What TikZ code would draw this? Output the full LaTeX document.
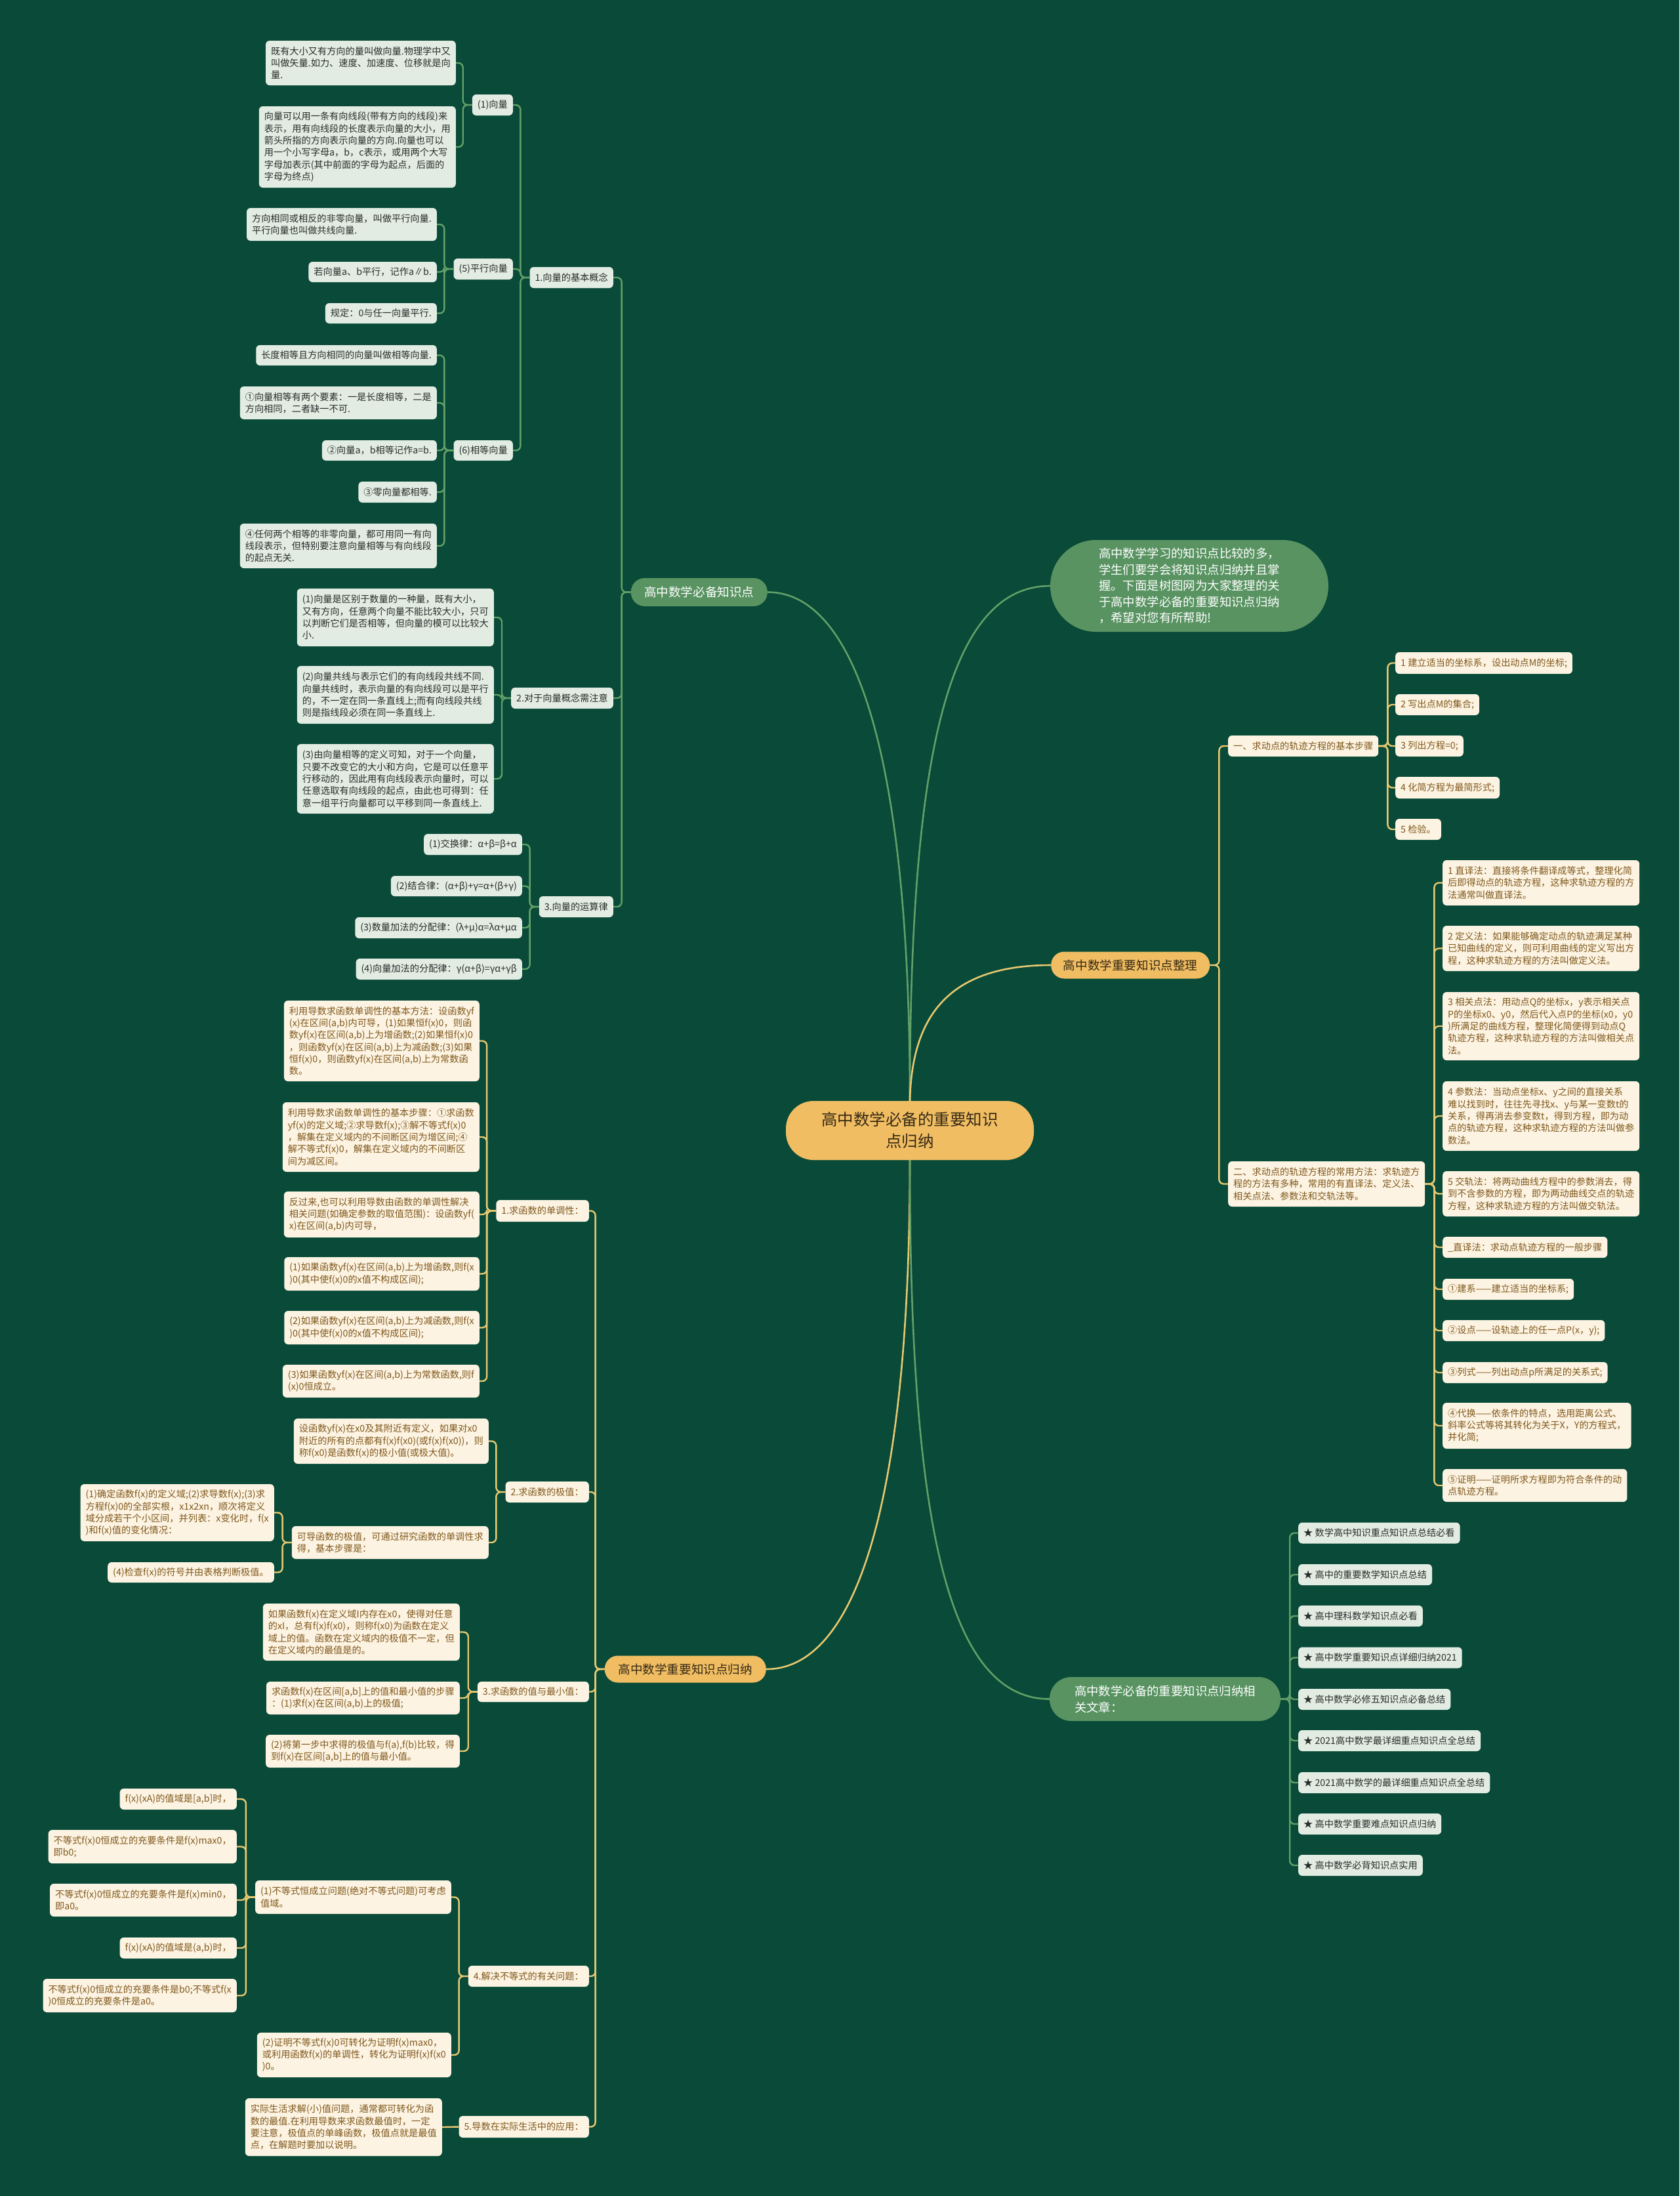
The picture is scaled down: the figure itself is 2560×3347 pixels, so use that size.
\documentclass[tikz,border=0pt]{standalone}
\usepackage{fontspec}
\setmainfont{Noto Sans CJK SC}
\definecolor{bg}{RGB}{9,74,56}
\definecolor{lgfill}{RGB}{226,236,227}
\definecolor{lgtext}{RGB}{40,45,42}
\definecolor{crfill}{RGB}{252,243,226}
\definecolor{crtext}{RGB}{128,88,28}
\definecolor{gold}{RGB}{240,189,99}
\definecolor{goldtext}{RGB}{55,42,20}
\definecolor{pillg}{RGB}{88,147,97}
\definecolor{lineg}{RGB}{98,160,104}
\definecolor{liney}{RGB}{232,200,112}
\tikzset{
 base/.style={inner xsep=8pt, inner ysep=3pt, rounded corners=6pt, align=left, font=\fontsize{14.2}{18.3}\selectfont},
 lg/.style={base, fill=lgfill, text=lgtext},
 cr/.style={base, fill=crfill, text=crtext},
 hh/.style={minimum height=#1pt},
 mg/.style={fill=pillg, text=white, rounded corners=21pt, minimum height=43pt, inner xsep=4pt, font=\fontsize{18.6}{24}\selectfont},
 my/.style={fill=gold, text=goldtext, rounded corners=20pt, minimum height=41pt, inner xsep=4pt, font=\fontsize{18.6}{24}\selectfont},
 lkg/.style={draw=lineg, line width=2.4pt, rounded corners=7pt},
 lky/.style={draw=liney, line width=2.4pt, rounded corners=7pt},
 cvg/.style={draw=lineg, line width=2.6pt},
 cvy/.style={draw=liney, line width=2.6pt},
}
\newcommand\lkL[3]{\draw[#1] (#3.east) -| ([xshift=-14pt]#2.west) -- (#2.west);}
\newcommand\lkR[3]{\draw[#1] (#3.west) -| ([xshift=14pt]#2.east) -- (#2.east);}
\begin{document}
\begin{tikzpicture}[x=1pt,y=-1pt]
\fill[bg] (0,0) rectangle (2560,3347);
\useasboundingbox (0,0) rectangle (2560,3347);

% ---------- center ----------
\node[fill=gold, text=goldtext, rounded corners=42pt, minimum width=378pt, minimum height=90pt, align=center, font=\fontsize{24.5}{33}\selectfont] (C) at (1387,1723) {高中数学必备的重要知识\\点归纳};

% ---------- right: intro pill ----------
\node[fill=pillg, text=white, rounded corners=70pt, minimum width=424pt, minimum height=140pt, align=left, font=\fontsize{18.4}{24.5}\selectfont] (P1) at (1813,893) {高中数学学习的知识点比较的多，\\学生们要学会将知识点归纳并且掌\\握。下面是树图网为大家整理的关\\于高中数学必备的重要知识点归纳\\，希望对您有所帮助!};

% ---------- right: 整理 ----------
\node[my, anchor=west, minimum width=242pt] (M) at (1602,1471) {高中数学重要知识点整理};
\node[cr, hh=32, anchor=west] (T1) at (1872,1137) {一、求动点的轨迹方程的基本步骤};
\node[cr, hh=69, anchor=west] (T2) at (1872,1804.5) {二、求动点的轨迹方程的常用方法：求轨迹方\\程的方法有多种，常用的有直译法、定义法、\\相关点法、参数法和交轨法等。};
\node[cr, hh=33, anchor=west] (k1) at (2127,1010.5) {1~建立适当的坐标系，设出动点M的坐标;};
\node[cr, hh=32, anchor=west] (k2) at (2127,1074) {2~写出点M的集合;};
\node[cr, hh=32, anchor=west] (k3) at (2127,1137) {3~列出方程=0;};
\node[cr, hh=33, anchor=west] (k4) at (2127,1200.5) {4~化简方程为最简形式;};
\node[cr, hh=32, anchor=west] (k5) at (2127,1264) {5~检验。};
\node[cr, hh=69, anchor=west] (m1) at (2199,1345.5) {1~直译法：直接将条件翻译成等式，整理化简\\后即得动点的轨迹方程，这种求轨迹方程的方\\法通常叫做直译法。};
\node[cr, hh=69, anchor=west] (m2) at (2199,1445.5) {2~定义法：如果能够确定动点的轨迹满足某种\\已知曲线的定义，则可利用曲线的定义写出方\\程，这种求轨迹方程的方法叫做定义法。};
\node[cr, hh=104, anchor=west] (m3) at (2199,1564) {3~相关点法：用动点Q的坐标x，y表示相关点\\P的坐标x0、y0，然后代入点P的坐标(x0，y0\\)所满足的曲线方程，整理化简便得到动点Q\\轨迹方程，这种求轨迹方程的方法叫做相关点\\法。};
\node[cr, hh=106, anchor=west] (m4) at (2199,1701) {4~参数法：当动点坐标x、y之间的直接关系\\难以找到时，往往先寻找x、y与某一变数t的\\关系，得再消去参变数t，得到方程，即为动\\点的轨迹方程，这种求轨迹方程的方法叫做参\\数法。};
\node[cr, hh=69, anchor=west] (m5) at (2199,1819.5) {5~交轨法：将两动曲线方程中的参数消去，得\\到不含参数的方程，即为两动曲线交点的轨迹\\方程，这种求轨迹方程的方法叫做交轨法。};
\node[cr, hh=32, anchor=west] (m6) at (2199,1901) {\_直译法：求动点轨迹方程的一般步骤};
\node[cr, hh=32, anchor=west] (m7) at (2199,1965) {①建系——建立适当的坐标系;};
\node[cr, hh=32, anchor=west] (m8) at (2199,2028) {②设点——设轨迹上的任一点P(x，y);};
\node[cr, hh=32, anchor=west] (m9) at (2199,2092) {③列式——列出动点p所满足的关系式;};
\node[cr, hh=70, anchor=west] (m10) at (2199,2173) {④代换——依条件的特点，选用距离公式、\\斜率公式等将其转化为关于X，Y的方程式，\\并化简;};
\node[cr, hh=50, anchor=west] (m11) at (2199,2264) {⑤证明——证明所求方程即为符合条件的动\\点轨迹方程。};

% ---------- right: related ----------
\node[fill=pillg, text=white, rounded corners=33pt, minimum width=352pt, minimum height=67pt, align=left, font=\fontsize{18.4}{25}\selectfont] (P2) at (1776,2589.5) {高中数学必备的重要知识点归纳相\\关文章：};
\node[lg, hh=32, anchor=west] (r1) at (1979,2336.5) {★~数学高中知识重点知识点总结必看};
\node[lg, hh=32, anchor=west] (r2) at (1979,2400) {★~高中的重要数学知识点总结};
\node[lg, hh=32, anchor=west] (r3) at (1979,2463) {★~高中理科数学知识点必看};
\node[lg, hh=32, anchor=west] (r4) at (1979,2526.5) {★~高中数学重要知识点详细归纳2021};
\node[lg, hh=32, anchor=west] (r5) at (1979,2590) {★~高中数学必修五知识点必备总结};
\node[lg, hh=32, anchor=west] (r6) at (1979,2653) {★~2021高中数学最详细重点知识点全总结};
\node[lg, hh=32, anchor=west] (r7) at (1979,2717) {★~2021高中数学的最详细重点知识点全总结};
\node[lg, hh=32, anchor=west] (r8) at (1979,2780) {★~高中数学重要难点知识点归纳};
\node[lg, hh=32, anchor=west] (r9) at (1979,2843) {★~高中数学必背知识点实用};

% ---------- left: 必备知识点 ----------
\node[mg, anchor=east, minimum width=208pt] (BB) at (1170,902.5) {高中数学必备知识点};
\node[lg, hh=32, anchor=east] (v1) at (935,423) {1.向量的基本概念};
\node[lg, hh=32, anchor=east] (v2) at (935,1064) {2.对于向量概念需注意};
\node[lg, hh=32, anchor=east] (v3) at (935,1382) {3.向量的运算律};
\node[lg, hh=32, anchor=east] (v11) at (782,160) {(1)向量};
\node[lg, hh=32, anchor=east] (v15) at (782,410) {(5)平行向量};
\node[lg, hh=31, anchor=east] (v16) at (782,686.5) {(6)相等向量};
\node[lg, hh=68, anchor=east] (a1) at (695,96) {既有大小又有方向的量叫做向量.物理学中又\\叫做矢量.如力、速度、加速度、位移就是向\\量.};
\node[lg, hh=124, anchor=east] (a2) at (695,224) {向量可以用一条有向线段(带有方向的线段)来\\表示，用有向线段的长度表示向量的大小，用\\箭头所指的方向表示向量的方向.向量也可以\\用一个小写字母a，b，c表示，或用两个大写\\字母加表示(其中前面的字母为起点，后面的\\字母为终点)};
\node[lg, hh=50, anchor=east] (b1) at (666,342) {方向相同或相反的非零向量，叫做平行向量.\\平行向量也叫做共线向量.};
\node[lg, hh=31, anchor=east] (b2) at (666,414.5) {若向量a、b平行，记作a∥b.};
\node[lg, hh=31, anchor=east] (b3) at (666,477.5) {规定：0与任一向量平行.};
\node[lg, hh=31, anchor=east] (c1) at (666,541.5) {长度相等且方向相同的向量叫做相等向量.};
\node[lg, hh=50, anchor=east] (c2) at (666,614) {①向量相等有两个要素：一是长度相等，二是\\方向相同，二者缺一不可.};
\node[lg, hh=31, anchor=east] (c3) at (666,686.5) {②向量a，b相等记作a=b.};
\node[lg, hh=32, anchor=east] (c4) at (666,750) {③零向量都相等.};
\node[lg, hh=68, anchor=east] (c5) at (666,832) {④任何两个相等的非零向量，都可用同一有向\\线段表示，但特别要注意向量相等与有向线段\\的起点无关.};
\node[lg, hh=88, anchor=east] (d1) at (753,941) {(1)向量是区别于数量的一种量，既有大小，\\又有方向，任意两个向量不能比较大小，只可\\以判断它们是否相等，但向量的模可以比较大\\小.};
\node[lg, hh=88, anchor=east] (d2) at (753,1059) {(2)向量共线与表示它们的有向线段共线不同.\\向量共线时，表示向量的有向线段可以是平行\\的，不一定在同一条直线上;而有向线段共线\\则是指线段必须在同一条直线上.};
\node[lg, hh=106, anchor=east] (d3) at (753,1187) {(3)由向量相等的定义可知，对于一个向量，\\只要不改变它的大小和方向，它是可以任意平\\行移动的，因此用有向线段表示向量时，可以\\任意选取有向线段的起点，由此也可得到：任\\意一组平行向量都可以平移到同一条直线上.};
\node[lg, hh=32, anchor=east] (e1) at (796,1287) {(1)交换律：α+β=β+α};
\node[lg, hh=31, anchor=east] (e2) at (796,1350.5) {(2)结合律：(α+β)+γ=α+(β+γ)};
\node[lg, hh=32, anchor=east] (e3) at (796,1414) {(3)数量加法的分配律：(λ+μ)α=λα+μα};
\node[lg, hh=32, anchor=east] (e4) at (796,1477) {(4)向量加法的分配律：γ(α+β)=γα+γβ};

% ---------- left: 重要知识点归纳 ----------
\node[my, anchor=east, minimum width=246pt] (RR) at (1168,2544) {高中数学重要知识点归纳};
\node[cr, hh=33, anchor=east] (s1) at (898,1845.5) {1.求函数的单调性：};
\node[cr, hh=32, anchor=east] (s2) at (898,2274) {2.求函数的极值：};
\node[cr, hh=31, anchor=east] (s3) at (898,2578.5) {3.求函数的值与最小值：};
\node[cr, hh=32, anchor=east] (s4) at (898,3012) {4.解决不等式的有关问题：};
\node[cr, hh=33, anchor=east] (s5) at (898,3241.5) {5.导数在实际生活中的应用：};
\node[cr, hh=123, anchor=east] (f1) at (731,1586.5) {利用导数求函数单调性的基本方法：设函数yf\\(x)在区间(a,b)内可导，(1)如果恒f(x)0，则函\\数yf(x)在区间(a,b)上为增函数;(2)如果恒f(x)0\\，则函数yf(x)在区间(a,b)上为减函数;(3)如果\\恒f(x)0，则函数yf(x)在区间(a,b)上为常数函\\数。};
\node[cr, hh=106, anchor=east] (f2) at (731,1733) {利用导数求函数单调性的基本步骤：①求函数\\yf(x)的定义域;②求导数f(x);③解不等式f(x)0\\，解集在定义域内的不间断区间为增区间;④\\解不等式f(x)0，解集在定义域内的不间断区\\间为减区间。};
\node[cr, hh=70, anchor=east] (f3) at (731,1851) {反过来,也可以利用导数由函数的单调性解决\\相关问题(如确定参数的取值范围)：设函数yf(\\x)在区间(a,b)内可导，};
\node[cr, hh=51, anchor=east] (f4) at (731,1941.5) {(1)如果函数yf(x)在区间(a,b)上为增函数,则f(x\\)0(其中使f(x)0的x值不构成区间);};
\node[cr, hh=51, anchor=east] (f5) at (731,2023.5) {(2)如果函数yf(x)在区间(a,b)上为减函数,则f(x\\)0(其中使f(x)0的x值不构成区间);};
\node[cr, hh=50, anchor=east] (f6) at (731,2105) {(3)如果函数yf(x)在区间(a,b)上为常数函数,则f\\(x)0恒成立。};
\node[cr, hh=69, anchor=east] (g1) at (745,2196.5) {设函数yf(x)在x0及其附近有定义，如果对x0\\附近的所有的点都有f(x)f(x0)(或f(x)f(x0))，则\\称f(x0)是函数f(x)的极小值(或极大值)。};
\node[cr, hh=50, anchor=east] (g2) at (745,2351) {可导函数的极值，可通过研究函数的单调性求\\得，基本步骤是：};
\node[cr, hh=87, anchor=east] (g2a) at (418,2305.5) {(1)确定函数f(x)的定义域;(2)求导数f(x);(3)求\\方程f(x)0的全部实根，x1x2xn，顺次将定义\\域分成若干个小区间，并列表：x变化时，f(x\\)和f(x)值的变化情况：};
\node[cr, hh=31, anchor=east] (g2b) at (418,2396.5) {(4)检查f(x)的符号并由表格判断极值。};
\node[cr, hh=87, anchor=east] (h1) at (701,2487.5) {如果函数f(x)在定义域I内存在x0，使得对任意\\的xI，总有f(x)f(x0)，则称f(x0)为函数在定义\\域上的值。函数在定义域内的极值不一定，但\\在定义域内的最值是的。};
\node[cr, hh=50, anchor=east] (h2) at (701,2588) {求函数f(x)在区间[a,b]上的值和最小值的步骤\\：(1)求f(x)在区间(a,b)上的极值;};
\node[cr, hh=50, anchor=east] (h3) at (701,2669) {(2)将第一步中求得的极值与f(a),f(b)比较，得\\到f(x)在区间[a,b]上的值与最小值。};
\node[cr, hh=51, anchor=east] (i1) at (688,2891.5) {(1)不等式恒成立问题(绝对不等式问题)可考虑\\值域。};
\node[cr, hh=68, anchor=east] (i2) at (688,3132) {(2)证明不等式f(x)0可转化为证明f(x)max0，\\或利用函数f(x)的单调性，转化为证明f(x)f(x0\\)0。};
\node[cr, hh=32, anchor=east] (i1a) at (361,2742) {f(x)(xA)的值域是[a,b]时，};
\node[cr, hh=51, anchor=east] (i1b) at (361,2814.5) {不等式f(x)0恒成立的充要条件是f(x)max0，\\即b0;};
\node[cr, hh=50, anchor=east] (i1c) at (361,2896) {不等式f(x)0恒成立的充要条件是f(x)min0，\\即a0。};
\node[cr, hh=32, anchor=east] (i1d) at (361,2969) {f(x)(xA)的值域是(a,b)时，};
\node[cr, hh=51, anchor=east] (i1e) at (361,3041.5) {不等式f(x)0恒成立的充要条件是b0;不等式f(x\\)0恒成立的充要条件是a0。};
\node[cr, hh=88, anchor=east] (j1) at (674,3242) {实际生活求解(小)值问题，通常都可转化为函\\数的最值.在利用导数来求函数最值时，一定\\要注意，极值点的单峰函数，极值点就是最值\\点，在解题时要加以说明。};

% ---------- connectors: center to main ----------
\draw[cvg] (C.north) .. controls (1387,1174) and (1310,902.5) .. (BB.east);
\draw[cvg] (C.north) .. controls (1387,1168) and (1441,893) .. (P1.west);
\draw[cvy] (C.north) .. controls (1390,1555) and (1440,1471) .. (M.west);
\draw[cvy] (C.south) .. controls (1387,2272) and (1310,2544) .. (RR.east);
\draw[cvg] (C.south) .. controls (1387,2302) and (1440,2589.5) .. (P2.west);

% ---------- connectors: left upper ----------
\foreach \c in {v1,v2,v3} {\lkL{lkg}{BB}{\c}}
\foreach \c in {v11,v15,v16} {\lkL{lkg}{v1}{\c}}
\foreach \c in {a1,a2} {\lkL{lkg}{v11}{\c}}
\foreach \c in {b1,b2,b3} {\lkL{lkg}{v15}{\c}}
\foreach \c in {c1,c2,c3,c4,c5} {\lkL{lkg}{v16}{\c}}
\foreach \c in {d1,d2,d3} {\lkL{lkg}{v2}{\c}}
\foreach \c in {e1,e2,e3,e4} {\lkL{lkg}{v3}{\c}}

% ---------- connectors: left lower ----------
\foreach \c in {s1,s2,s3,s4,s5} {\lkL{lky}{RR}{\c}}
\foreach \c in {f1,f2,f3,f4,f5,f6} {\lkL{lky}{s1}{\c}}
\foreach \c in {g1,g2} {\lkL{lky}{s2}{\c}}
\foreach \c in {g2a,g2b} {\lkL{lky}{g2}{\c}}
\foreach \c in {h1,h2,h3} {\lkL{lky}{s3}{\c}}
\foreach \c in {i1,i2} {\lkL{lky}{s4}{\c}}
\foreach \c in {i1a,i1b,i1c,i1d,i1e} {\lkL{lky}{i1}{\c}}
\draw[lky] (j1.east) -- (s5.west);

% ---------- connectors: right ----------
\foreach \c in {T1,T2} {\lkR{lky}{M}{\c}}
\foreach \c in {k1,k2,k3,k4,k5} {\lkR{lky}{T1}{\c}}
\foreach \c in {m1,m2,m3,m4,m5,m6,m7,m8,m9,m10,m11} {\lkR{lky}{T2}{\c}}
\foreach \c in {r1,r2,r3,r4,r5,r6,r7,r8,r9} {\lkR{lkg}{P2}{\c}}
\end{tikzpicture}
\end{document}
